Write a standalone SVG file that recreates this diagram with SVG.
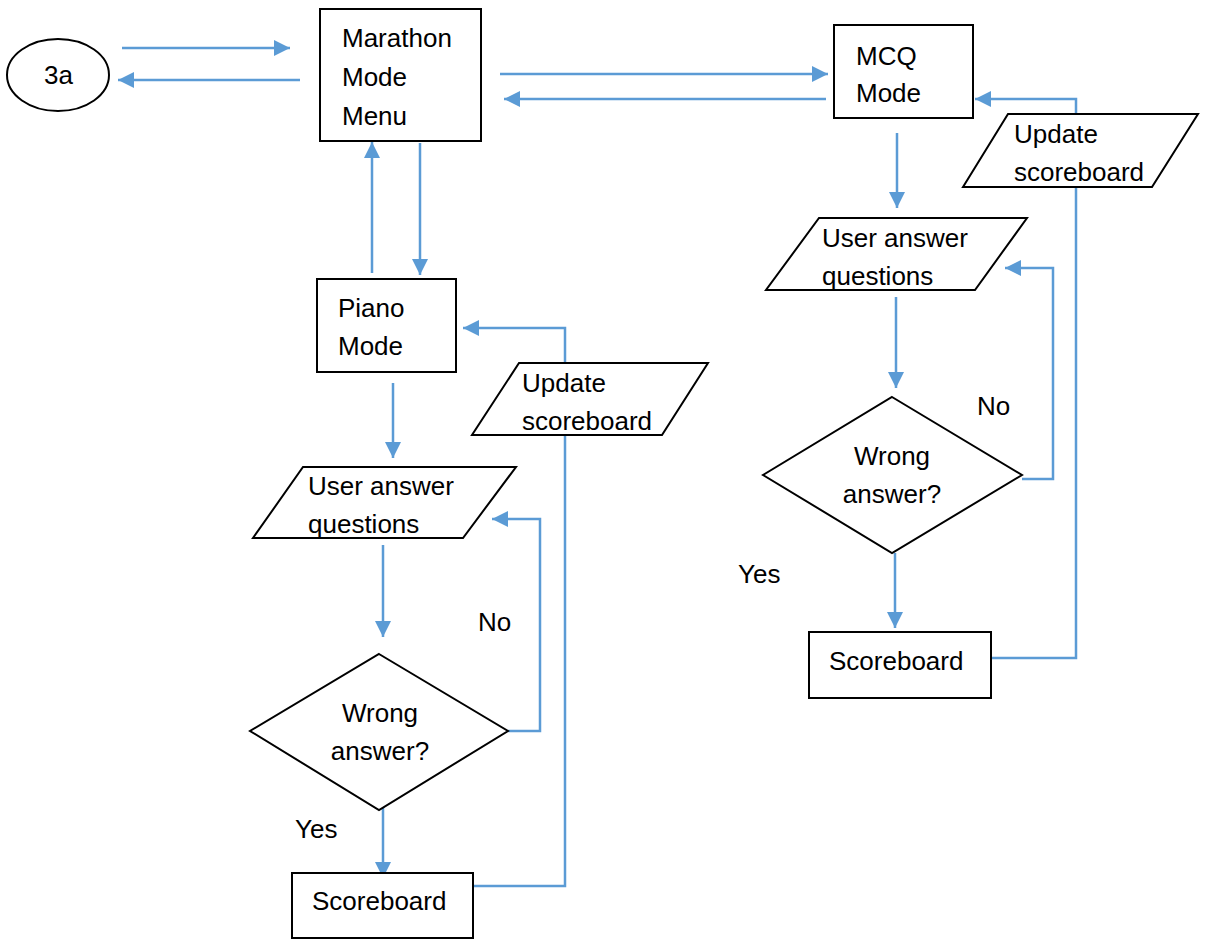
<svg xmlns="http://www.w3.org/2000/svg" width="1208" height="941" viewBox="0 0 1208 941">
  <style>
    .shape { fill: #ffffff; stroke: #000000; stroke-width: 2; }
    .flow { fill: none; stroke: #5B9BD5; stroke-width: 2.5; }
    text { font-family: "Liberation Sans", Arial, sans-serif; font-size: 26px; fill: #000000; }
  </style>
  <defs>
    <marker id="arrow" markerUnits="userSpaceOnUse" markerWidth="18" markerHeight="18" viewBox="0 0 18 18" refX="16" refY="9" orient="auto">
      <path d="M0,1 L16,9 L0,17 Z" fill="#5B9BD5"/>
    </marker>
  </defs>
  <rect width="1208" height="941" fill="#ffffff"/>

  <!-- connectors -->
  <g id="connectors">
    <!-- 3a <-> Marathon Mode Menu -->
    <path class="flow" d="M122,48 L290,48" marker-end="url(#arrow)"/>
    <path class="flow" d="M300,80 L118,80" marker-end="url(#arrow)"/>
    <!-- Marathon Mode Menu <-> MCQ Mode -->
    <path class="flow" d="M500,74 L828,74" marker-end="url(#arrow)"/>
    <path class="flow" d="M826,99 L504,99" marker-end="url(#arrow)"/>
    <!-- Marathon Mode Menu <-> Piano Mode -->
    <path class="flow" d="M372,273 L372,142" marker-end="url(#arrow)"/>
    <path class="flow" d="M420,143 L420,275" marker-end="url(#arrow)"/>
    <!-- MCQ branch -->
    <path class="flow" d="M897,133 L897,208" marker-end="url(#arrow)"/>
    <path class="flow" d="M896,297 L896,388" marker-end="url(#arrow)"/>
    <path class="flow" d="M1022,479 L1053,479 L1053,268 L1005,268" marker-end="url(#arrow)"/>
    <path class="flow" d="M895,553 L895,628" marker-end="url(#arrow)"/>
    <path class="flow" d="M990,658 L1076,658 L1076,99 L975,99" marker-end="url(#arrow)"/>
    <!-- Piano branch -->
    <path class="flow" d="M393,383 L393,458" marker-end="url(#arrow)"/>
    <path class="flow" d="M383,545 L383,637" marker-end="url(#arrow)"/>
    <path class="flow" d="M508,731 L540,731 L540,519 L492,519" marker-end="url(#arrow)"/>
    <path class="flow" d="M383,802 L383,878" marker-end="url(#arrow)"/>
    <path class="flow" d="M473,886 L565,886 L565,328 L463,328" marker-end="url(#arrow)"/>
  </g>

  <!-- nodes -->
  <g id="start-3a">
    <ellipse class="shape" cx="58" cy="75" rx="51" ry="36"/>
    <text x="44" y="84">3a</text>
  </g>

  <g id="marathon-menu">
    <rect class="shape" x="320" y="9" width="161" height="132"/>
    <text x="342" y="47">Marathon</text>
    <text x="342" y="86">Mode</text>
    <text x="342" y="125">Menu</text>
  </g>

  <g id="mcq-mode">
    <rect class="shape" x="834" y="25" width="139" height="93"/>
    <text x="856" y="65">MCQ</text>
    <text x="856" y="102">Mode</text>
  </g>

  <g id="mcq-update-scoreboard">
    <polygon class="shape" points="1008,114 1198,114 1152,187 963,187"/>
    <text x="1014" y="143">Update</text>
    <text x="1014" y="181">scoreboard</text>
  </g>

  <g id="mcq-user-answer">
    <polygon class="shape" points="819,218 1027,218 975,290 766,290"/>
    <text x="822" y="247">User answer</text>
    <text x="822" y="285">questions</text>
  </g>

  <g id="mcq-wrong-answer">
    <polygon class="shape" points="892,397 1022,475 892,553 763,475"/>
    <text x="892" y="465" text-anchor="middle">Wrong</text>
    <text x="892" y="503" text-anchor="middle">answer?</text>
  </g>

  <g id="mcq-labels">
    <text x="977" y="415">No</text>
    <text x="738" y="583">Yes</text>
  </g>

  <g id="mcq-scoreboard">
    <rect class="shape" x="809" y="632" width="182" height="66"/>
    <text x="829" y="670">Scoreboard</text>
  </g>

  <g id="piano-mode">
    <rect class="shape" x="317" y="279" width="139" height="93"/>
    <text x="338" y="317">Piano</text>
    <text x="338" y="355">Mode</text>
  </g>

  <g id="piano-update-scoreboard">
    <polygon class="shape" points="519,363 708,363 662,435 472,435"/>
    <text x="522" y="392">Update</text>
    <text x="522" y="430">scoreboard</text>
  </g>

  <g id="piano-user-answer">
    <polygon class="shape" points="303,467 516,467 463,538 253,538"/>
    <text x="308" y="495">User answer</text>
    <text x="308" y="533">questions</text>
  </g>

  <g id="piano-wrong-answer">
    <polygon class="shape" points="379,654 508,731 379,810 250,731"/>
    <text x="380" y="722" text-anchor="middle">Wrong</text>
    <text x="380" y="760" text-anchor="middle">answer?</text>
  </g>

  <g id="piano-labels">
    <text x="478" y="631">No</text>
    <text x="295" y="838">Yes</text>
  </g>

  <g id="piano-scoreboard">
    <rect class="shape" x="292" y="873" width="181" height="65"/>
    <text x="312" y="910">Scoreboard</text>
  </g>
</svg>
